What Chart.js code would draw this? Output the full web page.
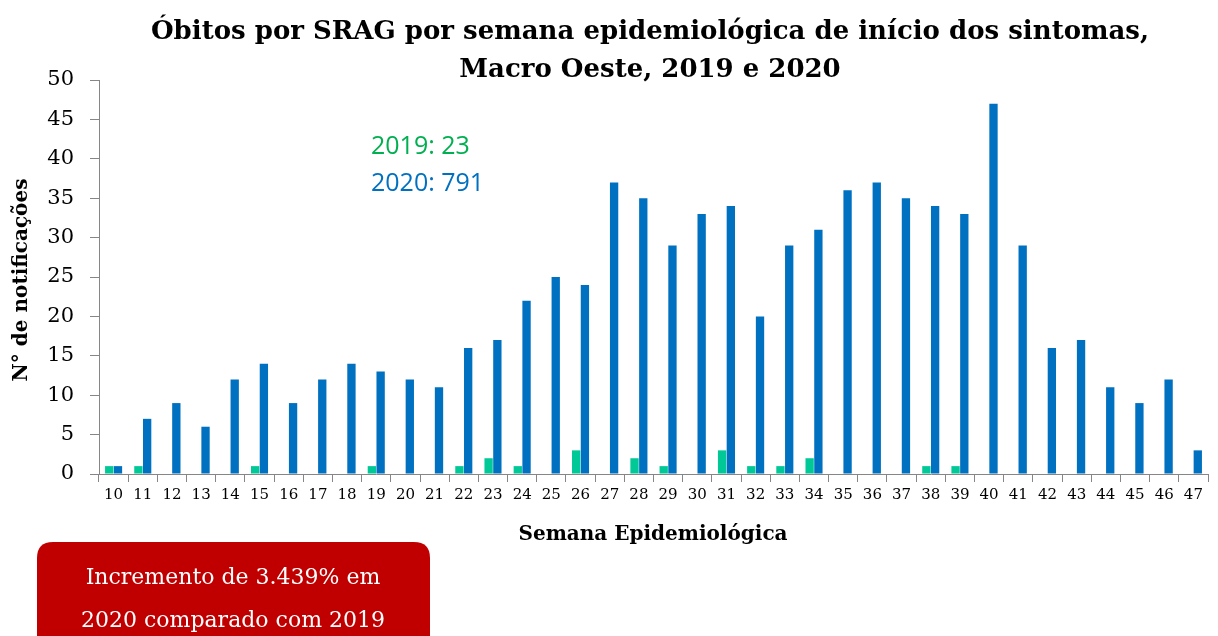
<!DOCTYPE html>
<html><head><meta charset="utf-8">
<script src="https://cdn.jsdelivr.net/npm/chart.js@4/dist/chart.umd.min.js"></script>
<style>html,body{margin:0;padding:0;background:#fff;}#wrap{width:1218px;height:636px;position:relative;}</style>
</head><body><div id="wrap"><canvas id="c" width="1218" height="636"></canvas></div>
<script>
const weeks = ['10','11','12','13','14','15','16','17','18','19','20','21','22','23','24','25','26','27','28','29','30','31','32','33','34','35','36','37','38','39','40','41','42','43','44','45','46','47'];
const deaths2019 = [1,1,0,0,0,1,0,0,0,1,0,0,1,2,1,0,3,0,2,1,0,3,1,1,2,0,0,0,1,1,0,0,0,0,0,0,0,0];
const deaths2020 = [1,7,9,6,12,14,9,12,14,13,12,11,16,17,22,25,24,37,35,29,33,34,20,29,31,36,37,35,34,33,47,29,16,17,11,9,12,3];
const yTicks = [0,5,10,15,20,25,30,35,40,45,50];
const titleLines = ['Óbitos por SRAG por semana epidemiológica de início dos sintomas,','Macro Oeste, 2019 e 2020'];
const xTitle = 'Semana Epidemiológica';
const yTitle = 'N° de notificações';
const totalsText = ['2019: 23','2020: 791'];
const boxLines = ['Incremento de 3.439% em','2020 comparado com 2019'];

const SERIF = "'DejaVu Serif', 'Liberation Serif', serif";

const annot = {
  id:'annot',
  afterDraw(chart){
    const ctx = chart.ctx, ca = chart.chartArea;
    ctx.save();
    ctx.fillStyle = '#000';
    ctx.textAlign = 'center'; ctx.textBaseline = 'middle';
    // title
    ctx.font = "bold 26px " + SERIF;
    ctx.fillText(titleLines[0], 650, 32);
    ctx.fillText(titleLines[1], 650, 70);
    // axis titles
    ctx.font = "bold 20px " + SERIF;
    ctx.fillText(xTitle, 653, 535);
    ctx.save();
    ctx.translate(22, 280); ctx.rotate(-Math.PI/2);
    ctx.fillText(yTitle, 0, 0);
    ctx.restore();
    // totals
    ctx.textAlign = 'left';
    ctx.font = "25px 'Open Sans', Lato, sans-serif";
    ctx.fillStyle = '#00B050';
    ctx.fillText(totalsText[0], 371, 147);
    ctx.fillStyle = '#0070C0';
    ctx.fillText(totalsText[1], 371, 184);
    // red box
    ctx.fillStyle = '#C00000';
    const x0=37,y0=542,w=393,h=120,r=16;
    ctx.beginPath();
    ctx.moveTo(x0+r,y0); ctx.lineTo(x0+w-r,y0); ctx.quadraticCurveTo(x0+w,y0,x0+w,y0+r);
    ctx.lineTo(x0+w,y0+h); ctx.lineTo(x0,y0+h); ctx.lineTo(x0,y0+r); ctx.quadraticCurveTo(x0,y0,x0+r,y0);
    ctx.fill();
    ctx.fillStyle = '#fff';
    ctx.textAlign = 'center';
    ctx.font = "22px " + SERIF;
    ctx.fillText(boxLines[0], 233, 578);
    ctx.fillText(boxLines[1], 233, 621);
    ctx.restore();
  }
};

new Chart(document.getElementById('c'), {
  type:'bar',
  data:{ labels: weeks, datasets:[
    {label:'2019', data:deaths2019, backgroundColor:'#00C997', categoryPercentage:0.6, barPercentage:0.95},
    {label:'2020', data:deaths2020, backgroundColor:'#0070C0', categoryPercentage:0.6, barPercentage:0.95}
  ]},
  options:{
    responsive:false, animation:false, devicePixelRatio:1,
    layout:{padding:{top:80,right:10,left:0,bottom:0}},
    plugins:{legend:{display:false}, tooltip:{enabled:false}, title:{display:false}},
    scales:{
      x:{
        grid:{drawOnChartArea:false, drawTicks:true, tickLength:8, color:'#868686', offset:true},
        border:{color:'#868686', width:1},
        ticks:{color:'#000', font:{family:SERIF, size:15}, padding:4, maxRotation:0, autoSkip:false},
        title:{display:false},
        afterFit(s){ s.height = 162; }
      },
      y:{
        min:0, max:50,
        afterBuildTicks(s){ s.ticks = yTicks.map(v=>({value:v})); },
        grid:{drawOnChartArea:false, drawTicks:true, tickLength:9, color:'#868686'},
        border:{color:'#868686', width:1},
        ticks:{color:'#000', font:{family:SERIF, size:21}, padding:16},
        title:{display:false},
        afterFit(s){ s.width = 99; }
      }
    }
  },
  plugins:[annot]
});
</script></body></html>
